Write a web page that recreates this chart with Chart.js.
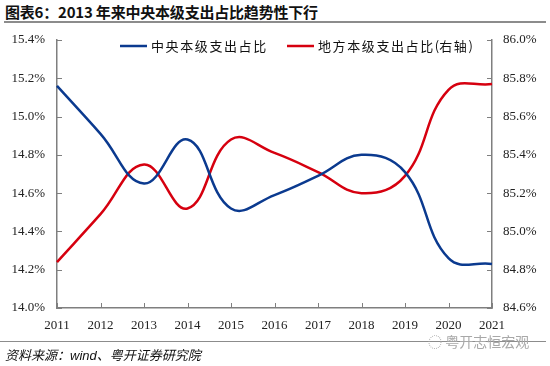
<!DOCTYPE html>
<html lang="zh">
<head>
  <meta charset="UTF-8">
  <title>中央本级支出占比</title>
  <script src="https://cdn.jsdelivr.net/npm/chart.js"></script>
  <style>
    body { margin: 0; width: 550px; height: 366px; background: #fff; position: relative; overflow: hidden; }
    #title { position: absolute; left: 5px; top: 1px; font: bold 15px "Noto Sans CJK SC", sans-serif; color: #111; letter-spacing: -0.2px; }
    #titleLine { position: absolute; left: 4px; top: 21px; width: 542px; height: 2px; background: #8c8c8c; }
    #footLine { position: absolute; left: 0; top: 341px; width: 546px; height: 1px; background: #8c8c8c; }
    #source { position: absolute; left: 5px; top: 345px; font: italic 13px "Noto Sans CJK SC", sans-serif; color: #111; }
    #source i { font-family: "Liberation Sans", sans-serif; }
    #mark { position: absolute; left: 428px; top: 331px; font: 14px "Noto Sans CJK SC", sans-serif; color: #a8a8a8; }
    canvas { position: absolute; left: 0; top: 0; }
  </style>
</head>
<body>
  <div id="title">图表6：2013 年来中央本级支出占比趋势性下行</div>
  <div id="titleLine"></div>
  <canvas id="chart" width="550" height="366"></canvas>
  <div id="footLine"></div>
  <div id="source">资料来源：<i>wind</i>、粤开证券研究院</div>
  <div id="mark">◌ 粤开志恒宏观</div>

  <script>
    // data
    const years = ['2011', '2012', '2013', '2014', '2015', '2016', '2017', '2018', '2019', '2020', '2021'];
    const central = [15.16, 14.91, 14.65, 14.88, 14.52, 14.59, 14.69, 14.80, 14.71, 14.26, 14.23];
    const local = [84.84, 85.09, 85.35, 85.12, 85.48, 85.41, 85.31, 85.20, 85.29, 85.74, 85.77];

    const blue = '#0b3a8f';
    const red = '#d6000f';
    const axisGray = '#7f7f7f';

    // legend + inward tick marks drawn on top of the chart area
    const extras = {
      id: 'extras',
      afterDraw(chart) {
        const c = chart.ctx;
        const { x, y, yR } = chart.scales;
        c.save();
        c.strokeStyle = axisGray;
        c.lineWidth = 1;
        x.ticks.forEach((t, i) => {
          const px = Math.round(x.getPixelForTick(i)) + 0.5;
          c.beginPath(); c.moveTo(px, x.top); c.lineTo(px, x.top - 5); c.stroke();
        });
        y.ticks.forEach((t, i) => {
          const py = Math.round(y.getPixelForTick(i)) + 0.5;
          c.beginPath(); c.moveTo(y.right, py); c.lineTo(y.right + 5, py); c.stroke();
        });
        yR.ticks.forEach((t, i) => {
          const py = Math.round(yR.getPixelForTick(i)) + 0.5;
          c.beginPath(); c.moveTo(yR.left, py); c.lineTo(yR.left - 5, py); c.stroke();
        });

        // legend
        c.font = '13px "Noto Sans CJK SC"';
        c.textBaseline = 'middle';
        const items = [
          { label: chart.data.datasets[0].label, color: blue, x0: 120 },
          { label: chart.data.datasets[1].label, color: red, x0: 287 }
        ];
        items.forEach(it => {
          c.strokeStyle = it.color;
          c.lineWidth = 2.5;
          c.beginPath(); c.moveTo(it.x0, 46); c.lineTo(it.x0 + 27, 46); c.stroke();
          c.fillStyle = '#111';
          let cx = it.x0 + 31;
          for (const ch of it.label) {
            c.fillText(ch, cx, 46);
            cx += c.measureText(ch).width + (/[\u4e00-\u9fff]/.test(ch) ? 1.6 : 0);
          }
        });
        c.restore();
      }
    };

    const tickFont = { family: '"Liberation Serif", serif', size: 13 };

    new Chart(document.getElementById('chart'), {
      type: 'line',
      data: {
        labels: years,
        datasets: [
          {
            label: '中央本级支出占比',
            data: central,
            yAxisID: 'y',
            borderColor: blue,
            borderWidth: 2.5,
            pointRadius: 0,
            tension: 0.42
          },
          {
            label: '地方本级支出占比(右轴)',
            data: local,
            yAxisID: 'yR',
            borderColor: red,
            borderWidth: 2.5,
            pointRadius: 0,
            tension: 0.42
          }
        ]
      },
      options: {
        responsive: false,
        animation: false,
        layout: { padding: { top: 40, left: 0, right: 0, bottom: 0 } },
        plugins: { legend: { display: false }, tooltip: { enabled: false } },
        scales: {
          x: {
            offset: false,
            grid: { display: false, drawTicks: false },
            border: { color: axisGray, width: 1.5 },
            ticks: { font: tickFont, color: '#222', padding: 10, maxRotation: 0 },
            afterFit: s => { s.height = 58; }
          },
          y: {
            position: 'left',
            min: 14.0, max: 15.4,
            grid: { display: false, drawTicks: false },
            border: { color: axisGray, width: 1.5 },
            ticks: {
              stepSize: 0.2, font: tickFont, color: '#222', padding: 12,
              callback: v => v.toFixed(1) + '%'
            },
            afterFit: s => { s.width = 57; }
          },
          yR: {
            position: 'right',
            min: 84.6, max: 86.0,
            grid: { display: false, drawTicks: false },
            border: { color: axisGray, width: 1.5 },
            ticks: {
              stepSize: 0.2, font: tickFont, color: '#222', padding: 11,
              callback: v => v.toFixed(1) + '%'
            },
            afterFit: s => { s.width = 58; }
          }
        }
      },
      plugins: [extras]
    });
  </script>
</body>
</html>
